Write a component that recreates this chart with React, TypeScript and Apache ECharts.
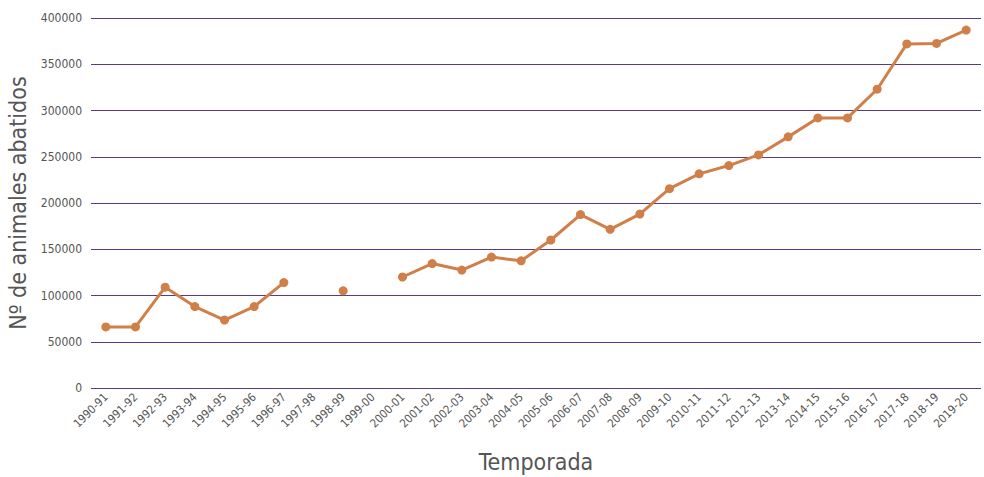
import React, { useEffect, useRef } from "react";
import * as echarts from "echarts";

const categories = [
  "1990-91", "1991-92", "1992-93", "1993-94", "1994-95", "1995-96", "1996-97", "1997-98",
  "1998-99", "1999-00", "2000-01", "2001-02", "2002-03", "2003-04", "2004-05", "2005-06",
  "2006-07", "2007-08", "2008-09", "2009-10", "2010-11", "2011-12", "2012-13", "2013-14",
  "2014-15", "2015-16", "2016-17", "2017-18", "2018-19", "2019-20",
];

const values: (number | null)[] = [
  66000, 66000, 109000, 88000, 73500, 88000, 114000, null,
  105000, null, 120000, 134500, 127500, 141500, 137500, 160000,
  187500, 171500, 188000, 215500, 231500, 240500, 252000, 271500,
  292000, 292000, 323000, 372000, 372500, 387000,
];

const FONT = "'Liberation Sans Narrow', 'DejaVu Sans Condensed', sans-serif";

export default function App() {
  const ref = useRef<HTMLDivElement>(null);
  useEffect(() => {
    if (!ref.current) return;
    const chart = echarts.init(ref.current, undefined, { renderer: "svg" });
    chart.setOption({
      animation: false,
      backgroundColor: "#ffffff",
      grid: {
        left: 91,
        right: 3,
        top: 18,
        bottom: 89,
        containLabel: false,
        outerBoundsMode: "none",
      },
      xAxis: {
        type: "category",
        data: categories,
        boundaryGap: true,
        axisLine: { show: false },
        axisTick: { show: false },
        axisLabel: {
          rotate: 45,
          interval: 0,
          color: "#555555",
          fontFamily: FONT,
          fontSize: 11.5,
          margin: 7,
        },
        name: "Temporada",
        nameLocation: "middle",
        nameGap: 62,
        nameTextStyle: { color: "#555555", fontFamily: FONT, fontSize: 23 },
      },
      yAxis: {
        type: "value",
        min: 0,
        max: 400000,
        interval: 50000,
        axisLine: { show: false },
        axisTick: { show: false },
        splitLine: { lineStyle: { color: "#583a8c", width: 1 } },
        axisLabel: {
          color: "#555555",
          fontFamily: FONT,
          fontSize: 12,
          margin: 9,
          formatter: (v: number) => String(v),
        },
        name: "Nº de animales abatidos",
        nameLocation: "middle",
        nameGap: 60,
        nameTextStyle: { color: "#555555", fontFamily: FONT, fontSize: 23 },
      },
      series: [
        {
          type: "line",
          data: values,
          connectNulls: false,
          symbol: "circle",
          symbolSize: 9,
          lineStyle: { color: "#d17f48", width: 3 },
          itemStyle: { color: "#d17f48" },
        },
      ],
    });
    return () => chart.dispose();
  }, []);
  return (
    <div
      ref={ref}
      style={{ position: "fixed", left: 0, top: 0, width: 984, height: 477 }}
    />
  );
}
